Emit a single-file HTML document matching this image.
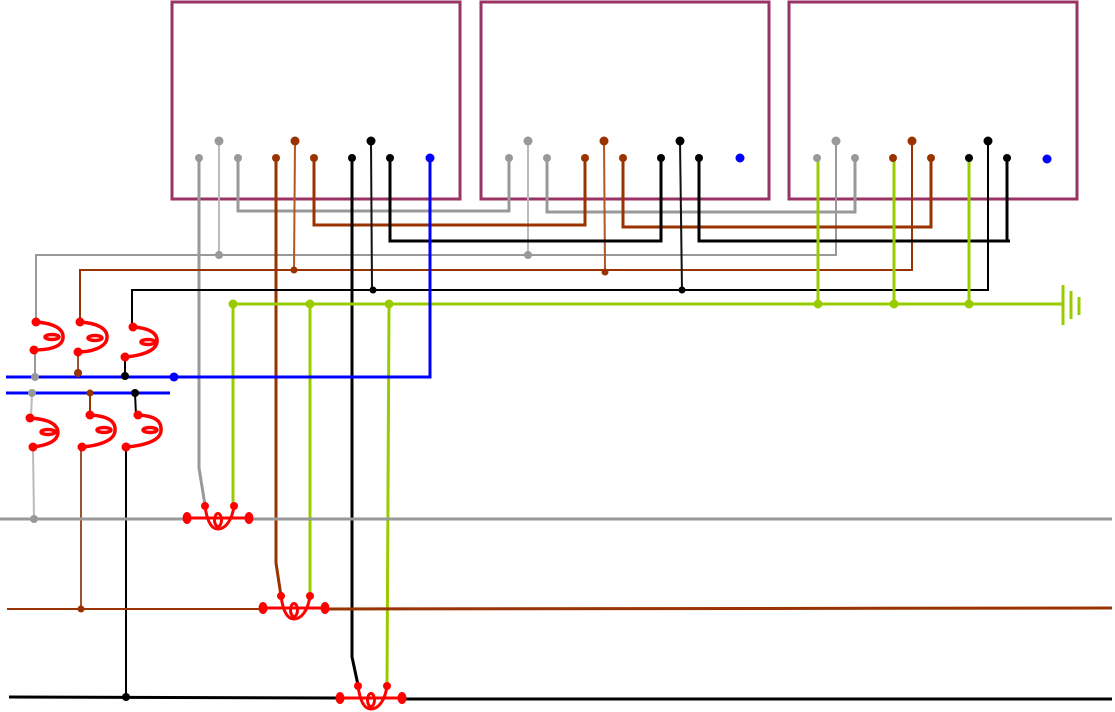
<!DOCTYPE html>
<html><head><meta charset="utf-8"><style>html,body{margin:0;padding:0;background:#fff}svg{display:block}</style></head>
<body>
<svg width="1115" height="712" viewBox="0 0 1115 712" xmlns="http://www.w3.org/2000/svg">
<defs>
<g id="coup" fill="none" stroke="#f00" stroke-width="3">
<line x1="-31" y1="0" x2="31" y2="0"/>
<path d="M-13,-12 C-11,3 -7,11 0,11 C7,11 14,3 16,-12"/>
<ellipse cx="0" cy="2" rx="3.5" ry="6.5"/>
<ellipse cx="-31" cy="0" rx="4.5" ry="6" fill="#f00" stroke="none"/>
<ellipse cx="31" cy="0" rx="4.5" ry="6" fill="#f00" stroke="none"/>
<circle cx="-13" cy="-12" r="4" fill="#f00" stroke="none"/>
<circle cx="16" cy="-12" r="4" fill="#f00" stroke="none"/>
</g>
</defs>

<g fill="none" stroke="#993366" stroke-width="3">
<rect x="172" y="2" width="288" height="197"/>
<rect x="481" y="2" width="288" height="197"/>
<rect x="789" y="2" width="288" height="197"/>
</g>

<g fill="none" stroke-linejoin="miter">
<polyline points="238,158 238,211 509,211 509,158" stroke="#999" stroke-width="3"/>
<polyline points="547,158 547,212 855,212 855,158" stroke="#999" stroke-width="3"/>
<polyline points="36,322 36,255 836,255 836,141" stroke="#999" stroke-width="2"/>
<line x1="219" y1="141" x2="219" y2="255" stroke="#bbb" stroke-width="2"/>
<line x1="528" y1="141" x2="528" y2="255" stroke="#bbb" stroke-width="2"/>
<polyline points="199,158 199,468 205,505" stroke="#999" stroke-width="3"/>
<polyline points="314,158 314,225 585,225 585,158" stroke="#993300" stroke-width="3"/>
<polyline points="623,158 623,227 931,227 931,158" stroke="#993300" stroke-width="3"/>
<polyline points="80,322 80,270 912,270 912,141" stroke="#993300" stroke-width="2"/>
<line x1="295" y1="141" x2="294" y2="270" stroke="#b0562a" stroke-width="2"/>
<line x1="604" y1="141" x2="605" y2="270" stroke="#b0562a" stroke-width="2"/>
<polyline points="276,158 276,563 281,596" stroke="#993300" stroke-width="3"/>
<polyline points="390,158 390,241 661,241 661,158" stroke="#000" stroke-width="3"/>
<polyline points="699,158 699,241 1010,241 1007,241 1007,158" stroke="#000" stroke-width="3"/>
<polyline points="132,330 132,290 988,290 988,141" stroke="#000" stroke-width="2"/>
<line x1="371" y1="141" x2="372" y2="290" stroke="#111" stroke-width="2"/>
<line x1="680" y1="141" x2="682" y2="290" stroke="#111" stroke-width="2"/>
<polyline points="352,158 352,657 358,685" stroke="#000" stroke-width="3"/>
<line x1="233" y1="304" x2="1062" y2="304" stroke="#99cc00" stroke-width="3"/>
<line x1="818" y1="158" x2="818" y2="304" stroke="#99cc00" stroke-width="3"/>
<line x1="894" y1="158" x2="894" y2="304" stroke="#99cc00" stroke-width="3"/>
<line x1="969" y1="158" x2="969" y2="304" stroke="#99cc00" stroke-width="3"/>
<line x1="233" y1="304" x2="233" y2="505" stroke="#99cc00" stroke-width="3"/>
<line x1="310" y1="304" x2="310" y2="597" stroke="#99cc00" stroke-width="3"/>
<line x1="389" y1="304" x2="387" y2="685" stroke="#99cc00" stroke-width="3"/>
<line x1="1063" y1="285" x2="1063" y2="325" stroke="#99cc00" stroke-width="3"/>
<line x1="1071" y1="291" x2="1071" y2="319" stroke="#99cc00" stroke-width="3"/>
<line x1="1079" y1="297" x2="1079" y2="315" stroke="#99cc00" stroke-width="3"/>
<polyline points="430,158 430,377 6,377" stroke="#0000ff" stroke-width="3"/>
<line x1="6" y1="393" x2="170" y2="393" stroke="#0000ff" stroke-width="3"/>
<line x1="35" y1="350" x2="35" y2="377" stroke="#999" stroke-width="2"/>
<line x1="78" y1="352" x2="78" y2="373" stroke="#a0522d" stroke-width="2"/>
<line x1="125" y1="357" x2="125" y2="376" stroke="#000" stroke-width="2"/>
<line x1="32" y1="393" x2="31" y2="418" stroke="#bbb" stroke-width="2"/>
<line x1="90" y1="393" x2="90" y2="415" stroke="#993300" stroke-width="2"/>
<line x1="135" y1="393" x2="136" y2="415" stroke="#000" stroke-width="2"/>
<line x1="33" y1="447" x2="34" y2="519" stroke="#bbb" stroke-width="2"/>
<line x1="81" y1="447" x2="81" y2="609" stroke="#a0522d" stroke-width="2"/>
<line x1="126" y1="447" x2="126" y2="697" stroke="#000" stroke-width="2"/>
<line x1="0" y1="519" x2="183" y2="519" stroke="#999" stroke-width="3"/>
<line x1="250" y1="519" x2="1112" y2="519" stroke="#999" stroke-width="3"/>
<line x1="7" y1="609" x2="262" y2="609" stroke="#993300" stroke-width="2"/>
<line x1="325" y1="609" x2="1112" y2="608" stroke="#993300" stroke-width="3"/>
<line x1="9" y1="697" x2="340" y2="698" stroke="#000" stroke-width="3"/>
<line x1="405" y1="699" x2="1112" y2="699" stroke="#000" stroke-width="3"/>
</g>

<g>
<g fill="#999"><circle cx="199" cy="158" r="4"/><circle cx="238" cy="158" r="4"/><circle cx="219" cy="141" r="4.5"/>
<circle cx="509" cy="158" r="4"/><circle cx="547" cy="158" r="4"/><circle cx="528" cy="141" r="4.5"/>
<circle cx="817" cy="158" r="4"/><circle cx="855" cy="158" r="4"/><circle cx="836" cy="141" r="4.5"/>
<circle cx="219" cy="255" r="4"/><circle cx="528" cy="255" r="4"/><circle cx="35" cy="377" r="4"/><circle cx="32" cy="393" r="4"/><circle cx="34" cy="519" r="4"/></g>
<g fill="#993300"><circle cx="276" cy="158" r="4"/><circle cx="314" cy="158" r="4"/><circle cx="295" cy="141" r="4.5"/>
<circle cx="585" cy="158" r="4"/><circle cx="623" cy="158" r="4"/><circle cx="604" cy="141" r="4.5"/>
<circle cx="893" cy="158" r="4"/><circle cx="931" cy="158" r="4"/><circle cx="912" cy="141" r="4.5"/>
<circle cx="294" cy="270" r="3.5"/><circle cx="605" cy="272" r="3.5"/><circle cx="78" cy="373" r="4"/><circle cx="90" cy="393" r="3.5"/><circle cx="81" cy="609" r="3.5"/></g>
<g fill="#000"><circle cx="352" cy="158" r="4"/><circle cx="390" cy="158" r="4"/><circle cx="371" cy="141" r="4.5"/>
<circle cx="661" cy="158" r="4"/><circle cx="699" cy="158" r="4"/><circle cx="680" cy="141" r="4.5"/>
<circle cx="969" cy="158" r="4"/><circle cx="1007" cy="158" r="4"/><circle cx="988" cy="141" r="4.5"/>
<circle cx="373" cy="290" r="3.5"/><circle cx="682" cy="290" r="3.5"/><circle cx="125" cy="376" r="4"/><circle cx="135" cy="393" r="4"/><circle cx="126" cy="697" r="4"/></g>
<g fill="#0000ff"><circle cx="430" cy="158" r="4.5"/><circle cx="740" cy="158" r="4.5"/><circle cx="1047" cy="159" r="4.5"/><circle cx="174" cy="377" r="4.5"/></g>
<g fill="#99cc00"><circle cx="233" cy="304" r="4.5"/><circle cx="310" cy="304" r="4.5"/><circle cx="389" cy="304" r="4.5"/><circle cx="818" cy="304" r="4.5"/><circle cx="894" cy="304" r="4.5"/><circle cx="969" cy="304" r="4.5"/></g>
</g>

<!-- coils -->
<g fill="none" stroke="#f00" stroke-width="3.5">
<path d="M36,322 C52,323 64,328 63,338 C62,348 46,350 34,350"/>
<ellipse cx="52" cy="337" rx="7" ry="2.5"/>
<path d="M80,322 C96,323 108,328 107,338 C106,348 90,352 78,352"/>
<ellipse cx="95" cy="338" rx="7" ry="2.5"/>
<path d="M133,327 C149,328 158,333 157,342 C156,352 138,356 125,357"/>
<ellipse cx="148" cy="342" rx="7" ry="2.5"/>
<path d="M30,418 C46,419 58,423 58,433 C57,443 42,446 33,447"/>
<ellipse cx="48" cy="432" rx="7" ry="2.5"/>
<path d="M90,415 C106,416 116,420 115,431 C114,442 95,446 82,447"/>
<ellipse cx="104" cy="430" rx="7" ry="2.5"/>
<path d="M138,415 C154,416 162,420 161,431 C160,442 140,446 126,447"/>
<ellipse cx="150" cy="430" rx="7" ry="2.5"/>
</g>
<g fill="#f00">
<circle cx="36" cy="322" r="4.5"/><circle cx="34" cy="350" r="4.5"/>
<circle cx="80" cy="322" r="4.5"/><circle cx="78" cy="352" r="4.5"/>
<circle cx="133" cy="327" r="4.5"/><circle cx="125" cy="357" r="4.5"/>
<circle cx="30" cy="418" r="4.5"/><circle cx="33" cy="447" r="4.5"/>
<circle cx="90" cy="415" r="4.5"/><circle cx="82" cy="447" r="4.5"/>
<circle cx="138" cy="415" r="4.5"/><circle cx="126" cy="447" r="4.5"/>
</g>
<use href="#coup" x="218" y="518"/>
<use href="#coup" x="294" y="608"/>
<use href="#coup" x="371" y="698"/>
</svg>
</body></html>
